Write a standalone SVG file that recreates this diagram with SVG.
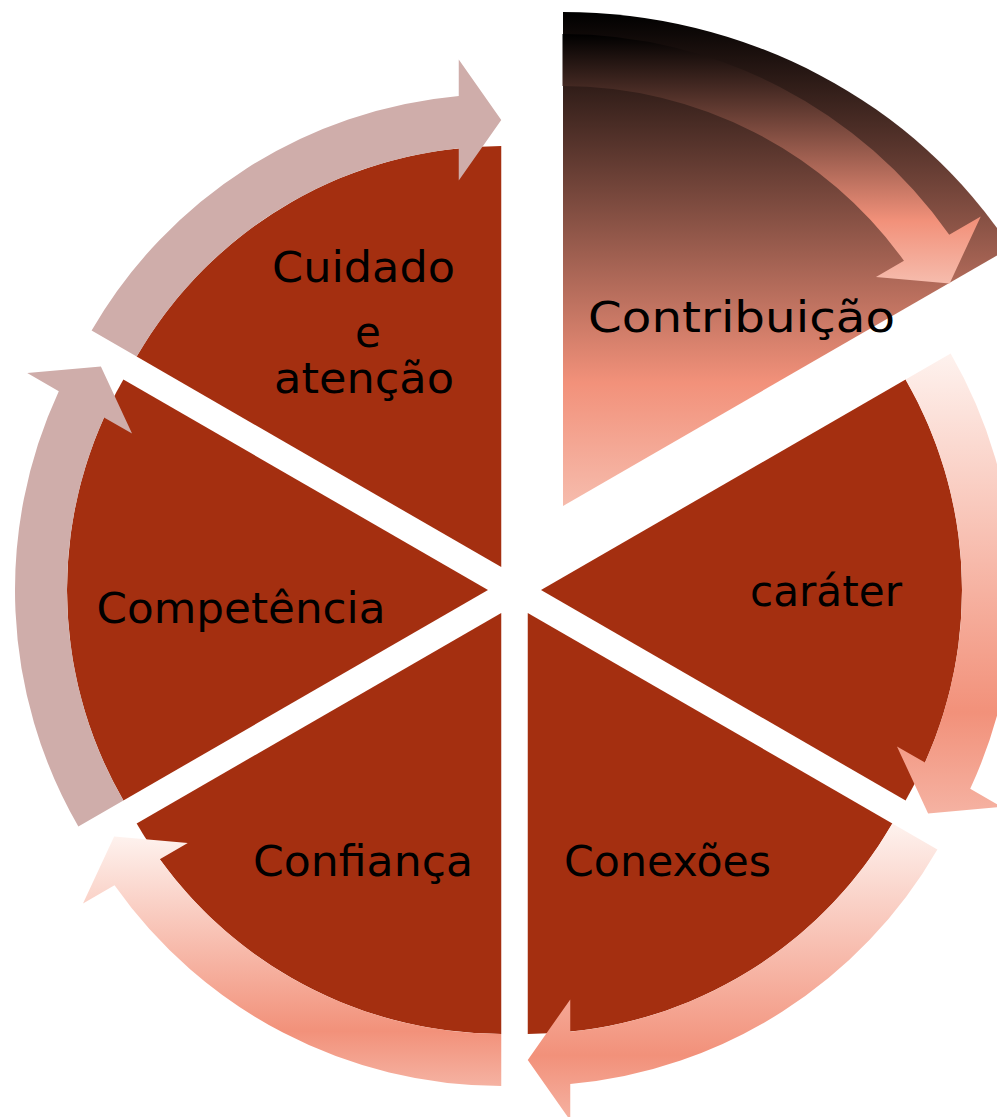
<svg xmlns="http://www.w3.org/2000/svg" width="997" height="1117" viewBox="0 0 997 1117">
  <defs>
    <linearGradient id="gLight" x1="0" y1="0" x2="0" y2="1">
      <stop offset="0" stop-color="#FEF2EE"/>
      <stop offset="0.78" stop-color="#F2917A"/>
      <stop offset="1" stop-color="#F5B2A2"/>
    </linearGradient>
    <linearGradient id="gDark" x1="0" y1="0" x2="0" y2="1">
      <stop offset="0" stop-color="#000000"/>
      <stop offset="0.75" stop-color="#F2917A"/>
      <stop offset="1" stop-color="#F6BCAD"/>
    </linearGradient>
    <style>
      .wedge { fill: #A42F10; }
      .arrow-grey { fill: #CFADAA; }
      .arrow-light { fill: url(#gLight); }
      .dark { fill: url(#gDark); }
      .label { font-family: "DejaVu Sans", "Noto Sans", sans-serif; font-size: 42px; fill: #000000; }
    </style>
  </defs>

  <rect width="997" height="1117" fill="#FFFFFF"/>

  <g id="node-contribuicao">
    <path class="dark" d="M563,506 L563,12 A525,494 0 0 1 1010.5,247.6 Z"/>
  </g>
  <g id="node-carater">
    <path class="wedge" d="M541,590 L905.6,379.5 A421,421 0 0 1 905.6,800.5 Z"/>
  </g>
  <g id="node-conexoes">
    <path class="wedge" d="M527.75,612.95 L892.35,823.45 A421,421 0 0 1 527.75,1033.95 Z"/>
  </g>
  <g id="node-confianca">
    <path class="wedge" d="M501.25,612.95 L501.25,1033.95 A421,421 0 0 1 136.65,823.45 Z"/>
  </g>
  <g id="node-competencia">
    <path class="wedge" d="M488,590 L123.4,800.5 A421,421 0 0 1 123.4,379.5 Z"/>
  </g>
  <g id="node-cuidado">
    <path class="wedge" d="M501.25,567.05 L136.65,356.55 A421,421 0 0 1 501.25,146.05 Z"/>
  </g>

  <g id="connectors">
    <path class="arrow-grey" d="M91.61,330.55 A473,473 0 0 1 458.75,95.96 L458.75,59.55 L501.25,120.05 L458.75,180.55 L458.75,148.2 A421,421 0 0 0 136.65,356.55 Z"/>
    <path class="dark" d="M562.5,34 A473,473 0 0 1 949.22,234.66 L980.76,216.44 L949.61,283.5 L875.97,276.94 L903.96,260.74 A421,421 0 0 0 562.5,86 Z"/>
    <path class="arrow-light" d="M950.64,353.5 A473,473 0 0 1 970.22,788.74 L1001.76,806.94 L928.11,813.5 L896.97,746.44 L924.99,762.62 A421,421 0 0 0 905.6,379.5 Z"/>
    <path class="arrow-light" d="M937.39,849.45 A473,473 0 0 1 570.25,1084.04 L570.25,1120.45 L527.75,1059.95 L570.25,999.45 L570.25,1031.8 A421,421 0 0 0 892.35,823.45 Z"/>
    <path class="arrow-light" d="M501.25,1085.95 A473,473 0 0 1 114.53,885.29 L83,903.51 L114.14,836.45 L187.78,843.01 L159.79,859.21 A421,421 0 0 0 501.25,1033.95 Z"/>
    <path class="arrow-grey" d="M78.36,826.5 A473,473 0 0 1 58.78,391.26 L27.24,373.06 L100.89,366.5 L132.03,433.56 L104.01,417.38 A421,421 0 0 0 123.4,800.5 Z"/>
  </g>

  <g id="labels">
    <text class="label" x="588" y="332" textLength="307" lengthAdjust="spacingAndGlyphs">Contribuição</text>
    <text class="label" x="750" y="606" textLength="152" lengthAdjust="spacingAndGlyphs">caráter</text>
    <text class="label" x="564" y="876" textLength="207" lengthAdjust="spacingAndGlyphs">Conexões</text>
    <text class="label" x="253" y="876" textLength="220" lengthAdjust="spacingAndGlyphs">Confiança</text>
    <text class="label" x="96.5" y="623" textLength="289" lengthAdjust="spacingAndGlyphs">Competência</text>
    <text class="label" x="272" y="282" textLength="183" lengthAdjust="spacingAndGlyphs">Cuidado</text>
    <text class="label" x="368" y="347" text-anchor="middle">e</text>
    <text class="label" x="274" y="393" textLength="180" lengthAdjust="spacingAndGlyphs">atenção</text>
  </g>
</svg>
